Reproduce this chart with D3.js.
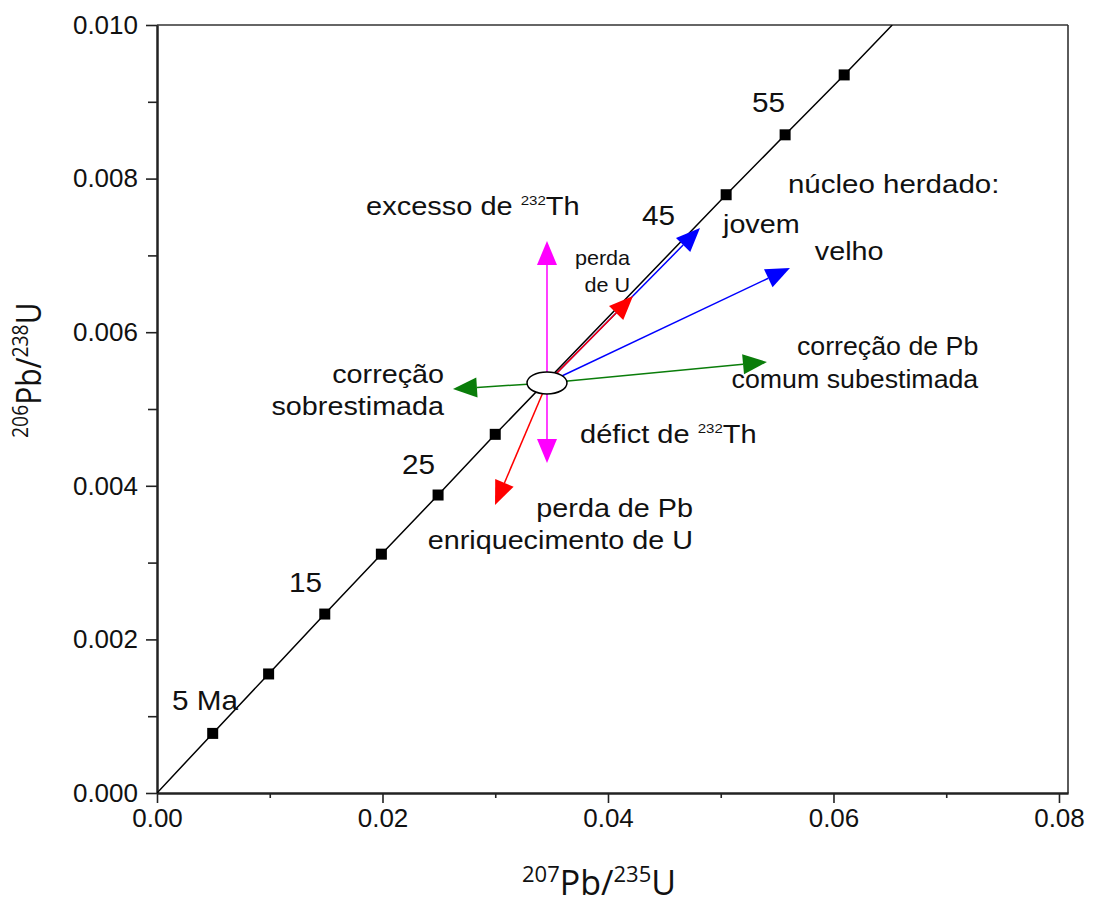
<!DOCTYPE html>
<html>
<head>
<meta charset="utf-8">
<script src="https://cdn.jsdelivr.net/npm/d3@7"></script>
<style>
  html, body { margin: 0; padding: 0; background: #fff; }
  svg { display: block; }
</style>
</head>
<body>
<svg id="chart" width="1093" height="904"></svg>
<script>
// Concordia diagram: 206Pb/238U vs 207Pb/235U with interpretive arrows

// Axis ticks
const xMajorTicks = [0.00, 0.02, 0.04, 0.06, 0.08];
const xMinorTicks = [0.01, 0.03, 0.05, 0.07];
const yMajorTicks = [0.000, 0.002, 0.004, 0.006, 0.008, 0.010];
const yMinorTicks = [0.001, 0.003, 0.005, 0.007, 0.009];

// Concordia curve (207Pb/235U, 206Pb/238U)
const concordiaX = [0, 0.00494, 0.00990, 0.01488, 0.01990, 0.02493, 0.03000, 0.05048, 0.05571, 0.06095, 0.06521];
const concordiaY = [0, 0.000776, 0.00155, 0.00233, 0.00311, 0.00388, 0.00467, 0.00779, 0.00857, 0.00935, 0.01000];

// Age markers on the concordia (Ma)
const markerAge = [5, 10, 15, 20, 25, 30, 50, 55, 60];
const markerX = [0.00494, 0.00990, 0.01488, 0.01990, 0.02493, 0.03000, 0.05048, 0.05571, 0.06095];
const markerY = [0.000776, 0.00155, 0.00233, 0.00311, 0.00388, 0.00467, 0.00779, 0.00857, 0.00935];

// Age labels
const ageLabelText = ["5 Ma", "15", "25", "45", "55"];
const ageLabelX = [0.00133, 0.01171, 0.02173, 0.04302, 0.05277];
const ageLabelY = [0.00108, 0.002617, 0.004154, 0.007396, 0.008867];

// Measured analysis (ellipse): centre and half-axes
const ellipseCenter = [0.03459, 0.005339];
const ellipseHalf = [0.00177, 0.000143];

// Displacement arrows: tip coordinates, all starting at the analysis
const arrowName = ["jovem", "velho", "comum", "sobre", "excessoTh", "deficitTh", "perdaU", "perdaPb"];
const arrowTipX = [0.04816, 0.05614, 0.05410, 0.02625, 0.03459, 0.03459, 0.04222, 0.02998];
const arrowTipY = [0.007357, 0.006836, 0.005612, 0.005260, 0.007188, 0.004297, 0.006471, 0.003750];
const arrowColor = ["#0000ff", "#0000ff", "#0a7d0a", "#0a7d0a", "#ff00ff", "#ff00ff", "#ff0000", "#ff0000"];

// Annotation labels: lines, anchor, and data position of the first baseline
const noteLines = [
  ["excesso de |232|Th"],
  ["perda", "de U"],
  ["núcleo herdado:"],
  ["jovem"],
  ["velho"],
  ["correção de Pb", "comum subestimada"],
  ["correção", "sobrestimada"],
  ["défict de |232|Th"],
  ["perda de Pb", "enriquecimento de U"]
];
const noteAnchor = ["start", "end", "start", "start", "start", "end", "end", "start", "end"];
const noteX = [0.01854, 0.04196, 0.05596, 0.05020, 0.05834, 0.07284, 0.02546, 0.03752, 0.04754];
const noteY = [0.007526, 0.006875, 0.007813, 0.007292, 0.006940, 0.005703, 0.005339, 0.004557, 0.003594];
const noteSize = [25, 20, 25, 25, 25, 25, 25, 25, 25];
const noteLead = [0, 27, 0, 0, 0, 33, 32, 0, 32];
const noteStretch = [1.16, 1.08, 1.18, 1.15, 1.15, 1.07, 1.15, 1.16, 1.15];

const svg = d3.select("#chart");
const margin = { left: 157, right: 1068, top: 25, bottom: 793 };

const x = d3.scaleLinear().domain([0, 0.0808]).range([margin.left, margin.right]);
const y = d3.scaleLinear().domain([0, 0.010]).range([margin.bottom, margin.top]);

const labelFont = "'Liberation Sans', Arial, Helvetica, sans-serif";
const titleFont = "'Open Sans', 'Noto Sans', sans-serif";

// Frame (top & right)
svg.append("line").attr("x1", x(0)).attr("x2", margin.right).attr("y1", margin.top).attr("y2", margin.top)
  .attr("stroke", "#333").attr("stroke-width", 1.6);
svg.append("line").attr("x1", margin.right).attr("x2", margin.right).attr("y1", margin.top).attr("y2", margin.bottom)
  .attr("stroke", "#333").attr("stroke-width", 1.6);

// Axes
function styleAxis(g, showText) {
  g.select(".domain").attr("stroke", "#222").attr("stroke-width", 2);
  g.selectAll(".tick line").attr("stroke", "#222").attr("stroke-width", 1.6);
  g.selectAll(".tick text").attr("fill", "#111").style("font-family", labelFont).style("font-size", "26px");
  if (!showText) g.selectAll(".tick text").remove();
}

const xAxisMinor = svg.append("g").attr("transform", `translate(0,${margin.bottom})`)
  .call(d3.axisBottom(x).tickValues(xMinorTicks).tickSize(5).tickSizeOuter(0).tickFormat(""));
styleAxis(xAxisMinor, false);
const xAxis = svg.append("g").attr("transform", `translate(0,${margin.bottom})`)
  .call(d3.axisBottom(x).tickValues(xMajorTicks).tickSize(10).tickSizeOuter(0).tickPadding(6).tickFormat(d3.format(".2f")));
styleAxis(xAxis, true);

const yAxisMinor = svg.append("g").attr("transform", `translate(${margin.left},0)`)
  .call(d3.axisLeft(y).tickValues(yMinorTicks).tickSize(9).tickSizeOuter(0).tickFormat(""));
styleAxis(yAxisMinor, false);
const yAxis = svg.append("g").attr("transform", `translate(${margin.left},0)`)
  .call(d3.axisLeft(y).tickValues(yMajorTicks).tickSize(11).tickSizeOuter(0).tickPadding(8).tickFormat(d3.format(".3f")));
styleAxis(yAxis, true);

// Axis titles with isotope superscripts
function isotopeTitle(textSel, parts) {
  parts.forEach((p, i) => {
    textSel.append("tspan").text(p[0]).style("font-size", p[1] ? "22px" : "34px")
      .attr("dy", i === 0 ? (p[1] ? -13 : 0) : (p[1] ? -13 : 13));
  });
}
const xTitle = svg.append("text")
  .attr("x", 599).attr("y", 895)
  .attr("text-anchor", "middle").attr("fill", "#111").style("font-family", titleFont);
isotopeTitle(xTitle, [["207", true], ["Pb/", false], ["235", true], ["U", false]]);

const yTitle = svg.append("text")
  .attr("transform", "translate(41,438) rotate(-90) scale(0.88,1)")
  .attr("text-anchor", "start").attr("fill", "#111").style("font-family", titleFont);
isotopeTitle(yTitle, [["206", true], ["Pb/", false], ["238", true], ["U", false]]);

// Plot content clipped to the frame
svg.append("clipPath").attr("id", "plotClip").append("rect")
  .attr("x", margin.left).attr("y", margin.top)
  .attr("width", margin.right - margin.left).attr("height", margin.bottom - margin.top);
const plot = svg.append("g").attr("clip-path", "url(#plotClip)");

// Concordia
const line = d3.line().x(d => x(d[0])).y(d => y(d[1]));
plot.append("path").datum(d3.zip(concordiaX, concordiaY))
  .attr("d", line).attr("fill", "none").attr("stroke", "#000").attr("stroke-width", 1.5);

// Age markers
const mSize = 11;
plot.selectAll("rect.marker").data(d3.zip(markerX, markerY, markerAge)).join("rect")
  .attr("class", "marker")
  .attr("x", d => x(d[0]) - mSize / 2).attr("y", d => y(d[1]) - mSize / 2)
  .attr("width", mSize).attr("height", mSize).attr("fill", "#000");

// Arrows (red ones last so they sit on top)
const headLen = 24, headHalf = 10;
const cx = x(ellipseCenter[0]), cy = y(ellipseCenter[1]);
arrowName.forEach((name, i) => {
  const tx = x(arrowTipX[i]), ty = y(arrowTipY[i]);
  const dx = tx - cx, dy = ty - cy, len = Math.hypot(dx, dy);
  const ux = dx / len, uy = dy / len;
  const bx = tx - ux * headLen, by = ty - uy * headLen;
  const g = plot.append("g").attr("class", "arrow " + name);
  g.append("line").attr("x1", cx).attr("y1", cy).attr("x2", bx).attr("y2", by)
    .attr("stroke", arrowColor[i]).attr("stroke-width", 1.5);
  g.append("path")
    .attr("d", `M${tx},${ty}L${bx - uy * headHalf},${by + ux * headHalf}L${bx + uy * headHalf},${by - ux * headHalf}Z`)
    .attr("fill", arrowColor[i]);
});

// Analysis ellipse
plot.append("ellipse")
  .attr("cx", cx).attr("cy", cy)
  .attr("rx", x(ellipseCenter[0] + ellipseHalf[0]) - cx)
  .attr("ry", cy - y(ellipseCenter[1] + ellipseHalf[1]))
  .attr("fill", "#fff").attr("stroke", "#000").attr("stroke-width", 1.5);

// Age labels
ageLabelText.forEach((t, i) => {
  svg.append("text")
    .attr("transform", `translate(${x(ageLabelX[i])},${y(ageLabelY[i])}) scale(1.1,1)`)
    .attr("fill", "#111").style("font-family", labelFont).style("font-size", "27px")
    .text(t);
});

// Annotation labels
noteLines.forEach((lines, i) => {
  const g = svg.append("g")
    .attr("transform", `translate(${x(noteX[i])},${y(noteY[i])}) scale(${noteStretch[i]},1)`);
  lines.forEach((ln, j) => {
    const t = g.append("text").attr("y", j * noteLead[i])
      .attr("text-anchor", noteAnchor[i]).attr("fill", "#111")
      .style("font-family", labelFont).style("font-size", noteSize[i] + "px");
    ln.split("|").forEach((part, k) => {
      if (k === 1) {
        t.append("tspan").text(part).style("font-size", "13px").attr("dy", -10);
      } else if (k === 2) {
        t.append("tspan").text(part).attr("dy", 10);
      } else {
        t.append("tspan").text(part);
      }
    });
  });
});
</script>
</body>
</html>
